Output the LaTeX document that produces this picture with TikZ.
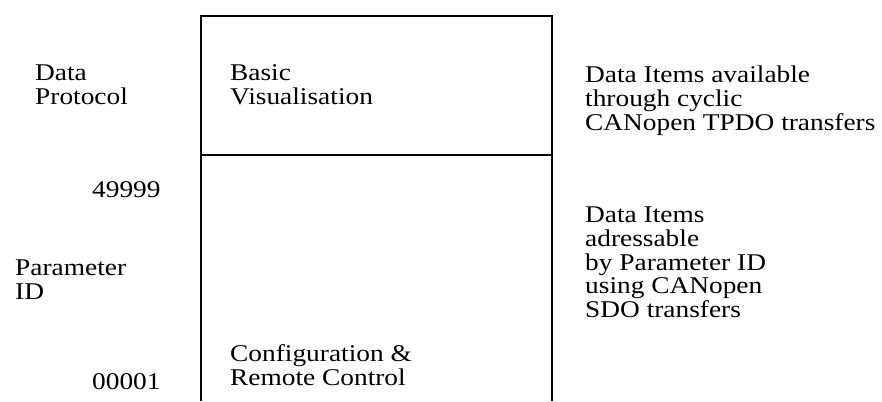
\documentclass[tikz,border=0pt]{standalone}
\usepackage{graphicx}
\usepackage{fontspec}
\setmainfont{Liberation Serif}
\newcommand{\wtxt}[1]{\scalebox{1.14}[1]{\begin{tabular}[t]{@{}l@{}}#1\end{tabular}}}
\begin{document}
\begin{tikzpicture}[x=1pt,y=1pt,
  lbl/.style={anchor=base west,inner sep=0pt,
    font=\fontsize{24}{23.5}\selectfont},
  frame/.style={line width=1.2pt,black}]
\useasboundingbox (0,0) rectangle (882,401);
% frame (open at bottom)
\coordinate (bl) at (201,0);
\coordinate (tl) at (201,385);
\coordinate (tr) at (552,385);
\coordinate (br) at (552,0);
\coordinate (ml) at (201,246);
\coordinate (mr) at (552,246);
\draw[frame] (bl) -- (tl) -- (tr) -- (br);
\draw[frame] (ml) -- (mr);
% texts
\node[lbl] (bv) at (230,320) {\wtxt{Basic\\Visualisation}};
\node[lbl] (cr) at (230,39) {\wtxt{Configuration \&\\Remote Control}};
\node[lbl] (dp) at (35,320) {\wtxt{Data\\Protocol}};
\node[lbl] (pid) at (15,125) {\wtxt{Parameter\\ID}};
\node[lbl] (hi) at (92,203) {\wtxt{49999}};
\node[lbl] (lo) at (92,12) {\wtxt{00001}};
\node[lbl] (tp) at (585,318) {\wtxt{Data Items available\\through cyclic\\CANopen TPDO transfers}};
\node[lbl] (sd) at (585,178) {\wtxt{Data Items\\adressable\\by Parameter ID\\using CANopen\\SDO transfers}};
\end{tikzpicture}
\end{document}
